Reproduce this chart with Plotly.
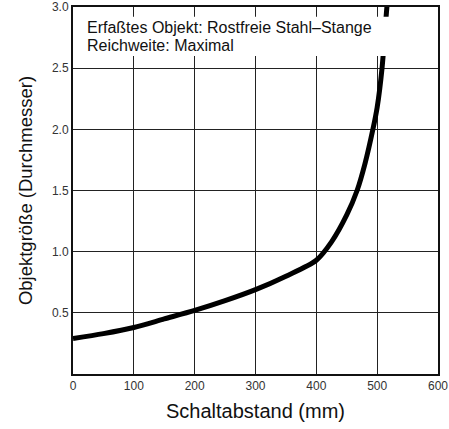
import plotly.graph_objects as go

distance_mm = [0, 50, 100, 150, 200, 250, 300, 350, 400, 425, 450, 467, 480, 493, 500, 508, 516, 522]
object_size = [0.29, 0.33, 0.38, 0.45, 0.52, 0.60, 0.69, 0.80, 0.93, 1.08, 1.30, 1.50, 1.72, 2.00, 2.18, 2.50, 3.00, 3.30]

x_ticks = [0, 100, 200, 300, 400, 500, 600]
y_ticks = [0.5, 1.0, 1.5, 2.0, 2.5, 3.0]
y_tick_labels = ["0.5", "1.0", "1.5", "2.0", "2.5", "3.0"]

info_lines = ["Erfaßtes Objekt: Rostfreie Stahl–Stange", "Reichweite: Maximal"]

FONT = "Liberation Sans, Arial, sans-serif"

fig = go.Figure()
fig.add_trace(go.Scatter(
    x=distance_mm, y=object_size, mode="lines",
    line=dict(color="black", width=5, shape="spline", smoothing=0.8),
    hoverinfo="skip", showlegend=False,
))

fig.add_shape(type="rect", xref="x", yref="y", x0=1, x1=530, y0=2.6, y1=2.92,
              fillcolor="white", line=dict(width=0), layer="above")

fig.add_annotation(x=19, y=2.83, xref="x", yref="y", text=info_lines[0],
                   showarrow=False, xanchor="left", yanchor="middle",
                   font=dict(family=FONT, size=16, color="#111"))
fig.add_annotation(x=19, y=2.685, xref="x", yref="y", text=info_lines[1],
                   showarrow=False, xanchor="left", yanchor="middle",
                   font=dict(family=FONT, size=16, color="#111"))

fig.update_layout(
    width=449, height=429,
    margin=dict(l=73, r=11, t=7, b=55),
    paper_bgcolor="white", plot_bgcolor="white",
    font=dict(family=FONT, color="#222"),
)
fig.update_xaxes(
    range=[0, 600], tickvals=x_ticks, ticktext=[str(v) for v in x_ticks],
    showgrid=True, gridcolor="#222", gridwidth=1,
    showline=True, linecolor="#111", linewidth=2, mirror=True,
    zeroline=False, ticks="", tickfont=dict(size=12, color="#333"),
    title=dict(text="Schaltabstand (mm)", font=dict(size=20, color="#111"), standoff=12),
    automargin=False,
)
fig.update_yaxes(
    range=[0, 3.0], tickvals=y_ticks, ticktext=y_tick_labels,
    showgrid=True, gridcolor="#222", gridwidth=1,
    showline=True, linecolor="#111", linewidth=2, mirror=True,
    zeroline=False, ticks="", tickfont=dict(size=12, color="#333"),
    title=dict(text="Objektgröße (Durchmesser)", font=dict(size=18.5, color="#111"), standoff=14),
    automargin=False,
)

fig.write_html("out.html",
               config={"displayModeBar": False, "staticPlot": True},
               post_script="document.body.style.margin='0px';document.body.style.overflow='hidden';")
